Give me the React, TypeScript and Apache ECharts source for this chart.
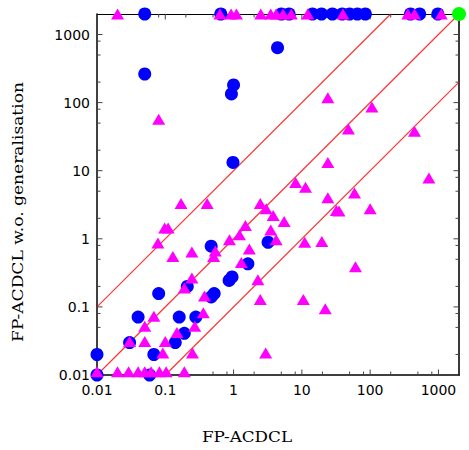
import React, { useEffect, useRef } from "react";
import * as echarts from "echarts";

const AXIS_MIN = 0.01;
const AXIS_MAX = 2000;
const majorTicks = [0.01, 0.1, 1, 10, 100, 1000];
const tickLabels = ["0.01", "0.1", "1", "10", "100", "1000"];
const minorSteps = [2, 5, 8];

const xAxisName = "FP-ACDCL";
const yAxisName = "FP-ACDCL w.o. generalisation";

// each diagonal: [x1, y1, x2, y2]
const diagonalLines: number[][] = [
  [0.01, 0.1, 200, 2000],
  [0.01, 0.01, 2000, 2000],
  [0.1, 0.01, 2000, 200],
];

const bluePoints: [number, number][] = [
  [0.05, 2000], [0.65, 2000], [5.0, 2000], [6.5, 2000], [14.3, 2000], [19.4, 2000],
  [28, 2000], [39, 2000], [50, 2000], [65, 2000], [85, 2000], [390, 2000], [530, 2000], [980, 2000],
  [0.05, 263], [1.0, 182], [0.93, 134], [0.98, 13.2], [4.4, 640],
  [0.47, 0.78], [1.62, 0.43], [3.2, 0.89], [0.95, 0.275], [0.86, 0.245], [0.52, 0.157],
  [0.47, 0.14], [0.21, 0.2], [0.08, 0.157], [0.04, 0.071], [0.16, 0.071], [0.28, 0.071],
  [0.19, 0.041], [0.14, 0.03], [0.03, 0.03], [0.068, 0.02], [0.01, 0.02], [0.01, 0.01], [0.059, 0.01],
];

const magentaPoints: [number, number][] = [
  [0.02, 2000], [0.63, 2000], [0.92, 2000], [1.1, 2000], [2.5, 2000], [3.5, 2000], [4.2, 2000],
  [5.3, 2000], [7.0, 2000], [12.2, 2000], [40, 2000], [356, 2000], [447, 2000], [1100, 2000],
  [0.08, 57], [24, 118], [106, 86], [48, 41], [446, 38], [725, 7.8], [24, 13.2], [8.1, 6.7],
  [11.3, 5.7], [24, 4.0], [59, 4.7], [32, 2.6], [35, 2.55], [100, 2.76], [5.5, 1.8], [11, 0.89],
  [19.6, 0.91], [61, 0.39], [10.5, 0.128], [22, 0.094],
  [0.17, 3.3], [0.41, 3.3], [0.098, 1.44], [0.11, 1.44], [0.078, 0.87], [0.129, 0.55],
  [0.245, 0.64], [0.54, 0.66], [0.51, 0.55], [0.87, 0.97], [1.22, 1.15], [1.49, 1.57],
  [1.7, 0.71], [1.3, 0.45], [2.46, 3.3], [3.0, 2.76], [3.8, 2.2], [3.5, 1.35], [4.2, 0.97],
  [2.27, 0.25], [2.46, 0.128], [2.95, 0.021], [0.375, 0.145], [0.36, 0.082], [0.19, 0.19],
  [0.245, 0.266], [0.068, 0.073], [0.05, 0.052], [0.27, 0.052], [0.148, 0.042], [0.03, 0.031],
  [0.05, 0.031], [0.1, 0.031], [0.092, 0.021], [0.25, 0.021],
  [0.01, 0.0112], [0.02, 0.0112], [0.029, 0.0112], [0.04, 0.0112], [0.05, 0.0112],
  [0.062, 0.0112], [0.082, 0.0112], [0.103, 0.0112], [0.19, 0.0112],
];

const greenPoints: [number, number][] = [[2000, 2000]];

function labelFor(v: number): string {
  for (let i = 0; i < majorTicks.length; i++) {
    if (Math.abs(Math.log10(v) - Math.log10(majorTicks[i])) < 1e-6) return tickLabels[i];
  }
  return "";
}

export default function App() {
  const ref = useRef<HTMLDivElement>(null);
  useEffect(() => {
    document.body.style.margin = "0";
    if (!ref.current) return;
    const chart = echarts.init(ref.current, null, { renderer: "svg" });

    const tickItems: number[][] = [];
    majorTicks.forEach((m) => {
      tickItems.push([m, 1, 0, 1]);
      tickItems.push([1, m, 1, 1]);
      minorSteps.forEach((s) => {
        const v = m * s;
        if (v < AXIS_MAX) {
          tickItems.push([v, 1, 0, 0]);
          tickItems.push([1, v, 1, 0]);
        }
      });
    });

    const tickColor = "#444";
    const lineRed = "#ff0000";
    const option: any = {
      animation: false,
      backgroundColor: "#fff",
      grid: { left: 97, right: 10, top: 14, bottom: 75, containLabel: false },
      xAxis: [
        {
          type: "log",
          logBase: 10,
          min: AXIS_MIN,
          max: AXIS_MAX,
          axisLine: { show: true, lineStyle: { color: "#000", width: 1.5 } },
          axisTick: { show: false },
          splitLine: { show: false },
          axisLabel: {
            show: true,
            showMaxLabel: false,
            margin: 8,
            fontFamily: "DejaVu Sans",
            fontSize: 14,
            color: "#000",
            formatter: (v: number) => labelFor(v),
          },
        },
        {
          type: "value",
          position: "top",
          min: 0,
          max: 1,
          axisLine: { show: true, lineStyle: { color: "#000", width: 1.2 } },
          axisTick: { show: false },
          axisLabel: { show: false },
          splitLine: { show: false },
        },
      ],
      yAxis: [
        {
          type: "log",
          logBase: 10,
          min: AXIS_MIN,
          max: AXIS_MAX,
          axisLine: { show: true, lineStyle: { color: "#000", width: 1.5 } },
          axisTick: { show: false },
          splitLine: { show: false },
          axisLabel: {
            show: true,
            showMaxLabel: false,
            margin: 7,
            fontFamily: "DejaVu Sans",
            fontSize: 14,
            color: "#000",
            formatter: (v: number) => labelFor(v),
          },
        },
        {
          type: "value",
          position: "right",
          min: 0,
          max: 1,
          axisLine: { show: true, lineStyle: { color: "#3a3a3a", width: 2 } },
          axisTick: { show: false },
          axisLabel: { show: false },
          splitLine: { show: false },
        },
      ],
      graphic: [
        {
          type: "text",
          x: 247,
          y: 437,
          scaleX: 1.2,
          style: {
            text: xAxisName,
            font: '14px "DejaVu Serif"',
            fill: "#000",
            textAlign: "center",
            textVerticalAlign: "middle",
            align: "center",
            verticalAlign: "middle",
          },
        },
        {
          type: "text",
          x: 19,
          y: 212,
          rotation: Math.PI / 2,
          scaleX: 1.22,
          style: {
            text: yAxisName,
            font: '14px "DejaVu Serif"',
            fill: "#000",
            textAlign: "center",
            textVerticalAlign: "middle",
            align: "center",
            verticalAlign: "middle",
          },
        },
      ],
      series: [
        {
          type: "custom",
          xAxisIndex: 0,
          yAxisIndex: 0,
          data: diagonalLines,
          encode: { x: [0, 2], y: [1, 3] },
          z: 1,
          silent: true,
          renderItem: (params: any, api: any) => {
            const p1 = api.coord([api.value(0), api.value(1)]);
            const p2 = api.coord([api.value(2), api.value(3)]);
            return {
              type: "line",
              shape: { x1: p1[0], y1: p1[1], x2: p2[0], y2: p2[1] },
              style: { stroke: lineRed, lineWidth: 1.2, fill: null, opacity: 0.8 },
            };
          },
        },
        {
          type: "custom",
          xAxisIndex: 0,
          yAxisIndex: 0,
          data: tickItems,
          encode: { x: 0, y: 1 },
          z: 2,
          silent: true,
          renderItem: (params: any, api: any) => {
            const isY = api.value(2);
            const major = api.value(3);
            const len = major ? 5.5 : 3.5;
            const style = { stroke: tickColor, lineWidth: 1 };
            if (!isY) {
              const v = api.value(0);
              const b = api.coord([v, AXIS_MIN]);
              const t = api.coord([v, AXIS_MAX]);
              return {
                type: "group",
                children: [
                  { type: "line", shape: { x1: b[0], y1: b[1], x2: b[0], y2: b[1] - len }, style },
                  { type: "line", shape: { x1: t[0], y1: t[1], x2: t[0], y2: t[1] + len }, style },
                ],
              };
            }
            const v = api.value(1);
            const l = api.coord([AXIS_MIN, v]);
            const r = api.coord([AXIS_MAX, v]);
            return {
              type: "group",
              children: [
                { type: "line", shape: { x1: l[0], y1: l[1], x2: l[0] + len, y2: l[1] }, style },
                { type: "line", shape: { x1: r[0], y1: r[1], x2: r[0] - len, y2: r[1] }, style },
              ],
            };
          },
        },
        {
          type: "scatter",
          xAxisIndex: 0,
          yAxisIndex: 0,
          data: bluePoints,
          symbol: "circle",
          symbolSize: 13,
          itemStyle: { color: "#0000ff", opacity: 1 },
          clip: false,
          z: 3,
        },
        {
          type: "scatter",
          xAxisIndex: 0,
          yAxisIndex: 0,
          data: magentaPoints,
          symbol: "triangle",
          symbolSize: [13, 11],
          itemStyle: { color: "#ff00ff", opacity: 1 },
          clip: false,
          z: 4,
        },
        {
          type: "scatter",
          xAxisIndex: 0,
          yAxisIndex: 0,
          data: greenPoints,
          symbol: "circle",
          symbolSize: 14,
          itemStyle: { color: "#00ff00", opacity: 1 },
          clip: false,
          z: 5,
        },
      ],
    };
    chart.setOption(option);
    return () => chart.dispose();
  }, []);
  return <div ref={ref} style={{ width: 469, height: 450 }} />;
}
